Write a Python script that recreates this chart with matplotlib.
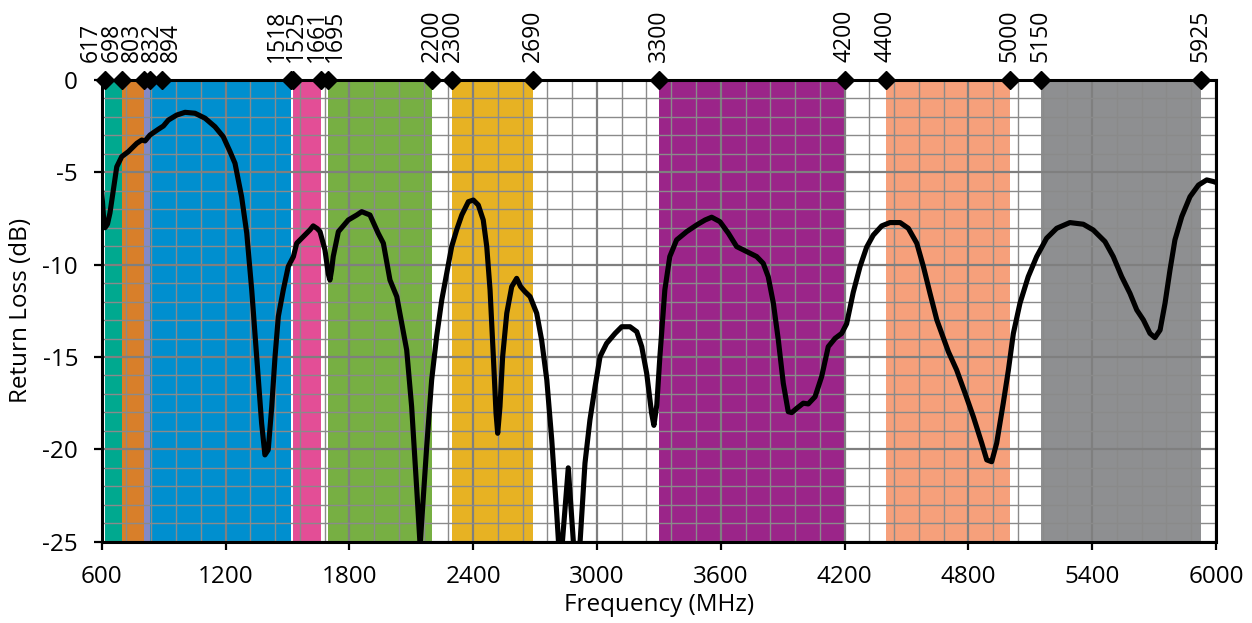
import matplotlib
matplotlib.use("Agg")
import matplotlib.pyplot as plt
from matplotlib.ticker import MultipleLocator

plt.rcParams['font.family'] = ['Open Sans', 'DejaVu Sans']
plt.rcParams['axes.unicode_minus'] = False

# ---------------- data ----------------
freq = [600, 610, 616, 628, 640, 656, 673, 697, 729, 770, 794, 810, 834, 874, 899,
        923, 963, 1004, 1052, 1101, 1149, 1189, 1222, 1246, 1278, 1303, 1327, 1351,
        1375, 1391, 1407, 1424, 1440, 1456, 1480, 1504, 1529, 1545, 1577, 1609, 1625,
        1645, 1658, 1682, 1698, 1706, 1714, 1722, 1747, 1795, 1836, 1860, 1900, 1940,
        1965, 1997, 2030, 2078, 2102, 2127, 2143, 2175, 2199, 2223, 2248, 2272, 2296,
        2320, 2345, 2377, 2401, 2425, 2449, 2466, 2482, 2498, 2511, 2519, 2530, 2543,
        2563, 2587, 2611, 2630, 2651, 2676, 2708, 2732, 2757, 2781, 2805, 2822, 2861,
        2895, 2910, 2942, 2966, 2991, 3015, 3047, 3088, 3120, 3160, 3193, 3217, 3241,
        3265, 3276, 3290, 3305, 3329, 3353, 3386, 3435, 3483, 3524, 3556, 3596, 3637,
        3677, 3726, 3774, 3806, 3830, 3855, 3879, 3903, 3927, 3944, 3968, 4000, 4024,
        4057, 4089, 4121, 4154, 4186, 4210, 4242, 4275, 4307, 4339, 4380, 4420, 4469,
        4509, 4550, 4582, 4614, 4647, 4671, 4703, 4743, 4784, 4824, 4865, 4889, 4913,
        4937, 4969, 4994, 5018, 5050, 5090, 5131, 5179, 5228, 5292, 5357, 5405, 5462,
        5502, 5543, 5583, 5616, 5648, 5680, 5704, 5729, 5753, 5777, 5801, 5834, 5874,
        5915, 5955, 5988, 6000]
return_loss = [-6.0, -7.6, -8.0, -7.8, -7.2, -6.0, -4.7, -4.15, -3.88, -3.43, -3.25, -3.3,
               -2.98, -2.67, -2.49, -2.17, -1.9, -1.75, -1.8, -2.07, -2.53, -3.07, -3.88,
               -4.51, -6.32, -8.3, -11.37, -14.98, -18.59, -20.3, -20.03, -17.69, -14.98,
               -12.8, -11.37, -10.1, -9.56, -8.84, -8.48, -8.12, -7.9, -8.05, -8.21, -9.2,
               -10.5, -10.83, -10.3, -9.56, -8.21, -7.58, -7.31, -7.13, -7.31, -8.3, -8.84,
               -10.83, -11.73, -14.62, -17.69, -22.2, -25.2, -19.85, -16.24, -13.9, -11.91,
               -10.47, -9.02, -8.12, -7.31, -6.59, -6.5, -6.77, -7.58, -9.02, -11.37, -14.98,
               -18.05, -19.13, -17.69, -14.98, -12.63, -11.19, -10.74, -11.19, -11.46,
               -11.73, -12.63, -14.08, -16.24, -19.49, -23.46, -26.5, -21.0, -26.5, -26.5,
               -20.75, -18.41, -16.6, -14.98, -14.26, -13.72, -13.36, -13.36, -13.63,
               -14.44, -15.88, -18.05, -18.7, -17.6, -14.98, -11.37, -9.56, -8.66, -8.21,
               -7.85, -7.58, -7.43, -7.67, -8.3, -9.02, -9.29, -9.56, -9.93, -10.65, -12.09,
               -14.08, -16.42, -17.96, -18.01, -17.78, -17.5, -17.54, -17.15, -16.06,
               -14.44, -13.99, -13.72, -13.2, -11.5, -10.1, -9.05, -8.4, -7.9, -7.72,
               -7.72, -8.03, -8.84, -10.1, -11.55, -12.99, -13.72, -14.71, -15.7, -16.96,
               -18.23, -19.67, -20.57, -20.67, -19.67, -17.5, -15.7, -13.72, -12.09,
               -10.65, -9.56, -8.57, -8.03, -7.72, -7.81, -8.12, -8.75, -9.56, -10.65,
               -11.55, -12.45, -12.99, -13.72, -13.95, -13.54, -12.09, -10.29, -8.66,
               -7.4, -6.32, -5.69, -5.41, -5.5, -5.55]

band_lo = [617, 698, 803, 832, 1525, 1695, 2300, 3300, 4400, 5150]
band_hi = [698, 803, 832, 1518, 1661, 2200, 2690, 4200, 5000, 5925]
band_colors = ['#00A98F', '#D87F2A', '#8489C6', '#008FCF', '#E34E96',
               '#77AF43', '#E7B223', '#9B2589', '#F6A07B', '#8E8F91']

edges = [617, 698, 803, 832, 894, 1518, 1525, 1661, 1695, 2200, 2300, 2690,
         3300, 4200, 4400, 5000, 5150, 5925]
edge_labels = [str(e) for e in edges]
# horizontal label nudges (pixels) to avoid overlap
label_nudge_px = [-14, -10, -12, 2, 9, -14.5, 3.5, -4, 7.5, 0, 0, 0,
                  0, 0, 0, 0, 0, 0]

x_ticks = [600, 1200, 1800, 2400, 3000, 3600, 4200, 4800, 5400, 6000]
y_ticks = [0, -5, -10, -15, -20, -25]

# ---------------- figure ----------------
W, H, DPI = 1252, 623, 100
FS = 17.5
FS_TOP = 16.5
fig = plt.figure(figsize=(W / DPI, H / DPI), dpi=DPI)
ax = fig.add_axes([101.7 / W, 1 - 541.7 / H, (1216 - 101.7) / W, (541.7 - 80) / H])

for lo, hi, c in zip(band_lo, band_hi, band_colors):
    ax.axvspan(lo, hi, color=c, lw=0, zorder=0.5)

ax.set_xlim(600, 6000)
ax.set_ylim(-25, 0)
ax.set_xticks(x_ticks)
ax.set_yticks(y_ticks)
ax.xaxis.set_minor_locator(MultipleLocator(120))
ax.yaxis.set_minor_locator(MultipleLocator(1))
ax.set_axisbelow(False)
ax.grid(which='minor', color='#8a8a8a', lw=1.0, zorder=1)
ax.grid(which='major', color='#7f7f7f', lw=1.6, zorder=1)
for gl in ax.get_xgridlines() + ax.get_ygridlines():
    gl.set_zorder(1)

ax.tick_params(which='minor', length=0)
ax.tick_params(which='major', direction='out', length=6, width=1.6,
               labelsize=FS, color='black')
ax.tick_params(axis='x', pad=11)
ax.tick_params(axis='y', pad=11)

for s in ax.spines.values():
    s.set_linewidth(2.2)
    s.set_color('black')
    s.set_zorder(4)

ax.plot(freq, return_loss, color='black', lw=3.7, solid_joinstyle='round',
        solid_capstyle='round', zorder=3)

ax.plot(edges, [0] * len(edges), linestyle='none', marker='D', markersize=9,
        color='black', clip_on=False, zorder=5)

for e, lab, nd in zip(edges, edge_labels, label_nudge_px):
    ax.annotate(lab, xy=(e, 0), xycoords='data',
                xytext=(nd * 72 / DPI, 13), textcoords='offset points',
                rotation=90, ha='center', va='bottom', fontsize=FS_TOP,
                annotation_clip=False)

ax.set_xlabel('Frequency (MHz)', fontsize=FS, labelpad=3)
ax.set_ylabel('Return Loss (dB)', fontsize=FS, labelpad=7)

fig.savefig('out.png', dpi=DPI)
